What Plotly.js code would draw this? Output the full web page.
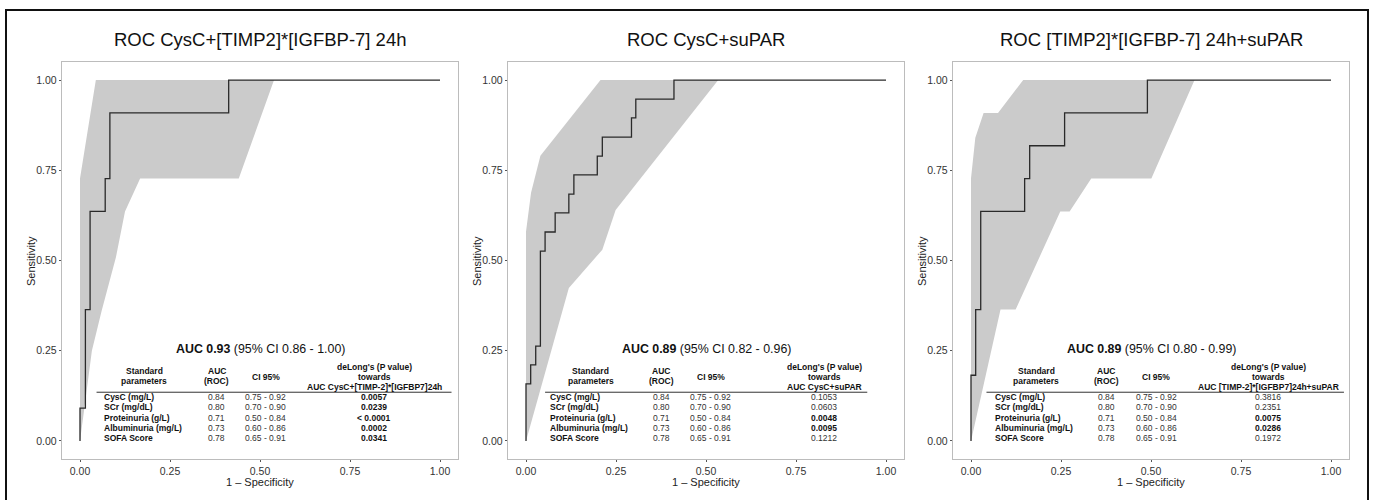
<!DOCTYPE html>
<html>
<head>
<meta charset="utf-8">
<script src="https://cdn.plot.ly/plotly-3.0.1.min.js"></script>
<style>html,body{margin:0;padding:0;background:#fff;}#chart{width:1373px;height:500px;}</style>
</head>
<body>
<div id="chart"></div>
<script>
// ---------- DATA ----------
const panelTitles = ['ROC CysC+[TIMP2]*[IGFBP-7] 24h', 'ROC CysC+suPAR', 'ROC [TIMP2]*[IGFBP-7] 24h+suPAR'];
const aucMain = ['0.93', '0.89', '0.89'];
const aucCI = ['0.86 - 1.00', '0.82 - 0.96', '0.80 - 0.99'];
const deLongTarget = ['AUC CysC+[TIMP-2]*[IGFBP7]24h', 'AUC CysC+suPAR', 'AUC [TIMP-2]*[IGFBP7]24h+suPAR'];

// ROC step curves (1 - specificity, sensitivity)
const roc1X = [0, 0, 0.015, 0.028, 0.07, 0.083, 0.413, 1];
const roc1Y = [0, 0.091, 0.364, 0.636, 0.727, 0.909, 1, 1];
const roc2X = [0, 0, 0.013, 0.027, 0.04, 0.053, 0.081, 0.119, 0.133, 0.198, 0.212, 0.293, 0.305, 0.411, 1];
const roc2Y = [0, 0.158, 0.211, 0.263, 0.526, 0.579, 0.632, 0.684, 0.737, 0.789, 0.842, 0.895, 0.947, 1, 1];
const roc3X = [0, 0, 0.013, 0.027, 0.149, 0.163, 0.26, 0.49, 1];
const roc3Y = [0, 0.182, 0.364, 0.636, 0.727, 0.818, 0.909, 1, 1];

// 95% CI bands of sensitivity (polygon outline)
const band1X = [0, 0, 0.044, 0.539, 0.441, 0.167, 0.125, 0.1, 0.06, 0.033, 0.012, 0];
const band1Y = [0, 0.727, 1, 1, 0.727, 0.727, 0.636, 0.51, 0.36, 0.25, 0.09, 0];
const band2X = [0, 0, 0.014, 0.04, 0.207, 0.534, 0.249, 0.212, 0.119, 0.06, 0];
const band2Y = [0, 0.58, 0.688, 0.79, 1, 1, 0.64, 0.53, 0.424, 0.21, 0];
const band3X = [0, 0, 0.012, 0.035, 0.075, 0.145, 0.621, 0.501, 0.334, 0.274, 0.248, 0.124, 0.082, 0];
const band3Y = [0, 0.727, 0.84, 0.909, 0.909, 1, 1, 0.727, 0.727, 0.636, 0.636, 0.364, 0.364, 0];

// Table
const rowNames = ['CysC (mg/L)', 'SCr (mg/dL)', 'Proteinuria (g/L)', 'Albuminuria (mg/L)', 'SOFA Score'];
const aucVals = ['0.84', '0.80', '0.71', '0.73', '0.78'];
const ciVals = ['0.75 - 0.92', '0.70 - 0.90', '0.50 - 0.84', '0.60 - 0.86', '0.65 - 0.91'];
const pVals1 = ['0.0057', '0.0239', '< 0.0001', '0.0002', '0.0341'];
const pVals2 = ['0.1053', '0.0603', '0.0048', '0.0095', '0.1212'];
const pVals3 = ['0.3816', '0.2351', '0.0075', '0.0286', '0.1972'];
const pSig1 = [true, true, true, true, true];
const pSig2 = [false, false, true, true, false];
const pSig3 = [false, false, true, true, false];

// ---------- LAYOUT ----------
const W = 1373, H = 500;
const FONT = 'Liberation Sans, Arial, Helvetica, sans-serif';
const frames = [[62, 458], [508, 904], [953, 1349]];
const frameTop = 62, frameBot = 459;
const colPos = [
  {name: 0.062, std: 0.178, auc: 0.38, ci: 0.516, p: 0.818, rule: [0.046, 1.032]},
  {name: 0.061, std: 0.18, auc: 0.376, ci: 0.513, p: 0.828, rule: [0.053, 0.948]},
  {name: 0.061, std: 0.181, auc: 0.376, ci: 0.515, p: 0.826, rule: [0.043, 1.036]}
];
const rowY = [0.123, 0.094, 0.065, 0.037, 0.009];

const rocX = [roc1X, roc2X, roc3X], rocY = [roc1Y, roc2Y, roc3Y];
const bandX = [band1X, band2X, band3X], bandY = [band1Y, band2Y, band3Y];
const pVals = [pVals1, pVals2, pVals3], pSig = [pSig1, pSig2, pSig3];

const traces = [];
const layout = {
  width: W, height: H,
  margin: {l: 0, r: 0, t: 0, b: 0},
  paper_bgcolor: '#ffffff', plot_bgcolor: '#ffffff',
  showlegend: false,
  font: {family: FONT, color: '#000'},
  annotations: [],
  shapes: []
};

function axisBase(domain, anchor) {
  return {
    domain: domain, anchor: anchor, range: [-0.05, 1.05],
    showgrid: false, zeroline: false, showline: true, mirror: true,
    linecolor: '#bcbcbc', linewidth: 1.2,
    ticks: 'outside', ticklen: 2, tickwidth: 1, tickcolor: '#555',
    tick0: 0, dtick: 0.25, tickformat: '.2f',
    tickfont: {family: FONT, size: 10.5, color: '#333'},
    fixedrange: true
  };
}

for (let i = 0; i < 3; i++) {
  const sfx = i === 0 ? '' : String(i + 1);
  const xa = 'x' + sfx, ya = 'y' + sfx;
  const [fl, fr] = frames[i];
  layout['xaxis' + sfx] = axisBase([fl / W, fr / W], ya);
  layout['yaxis' + sfx] = axisBase([1 - frameBot / H, 1 - frameTop / H], xa);

  traces.push({
    x: bandX[i], y: bandY[i], xaxis: xa, yaxis: ya,
    mode: 'lines', fill: 'toself', fillcolor: '#cbcbcb',
    line: {width: 0, color: '#cbcbcb'}, hoverinfo: 'skip'
  });
  traces.push({
    x: rocX[i], y: rocY[i], xaxis: xa, yaxis: ya,
    mode: 'lines', line: {shape: 'hv', color: '#2a2a2a', width: 1.3}, hoverinfo: 'skip'
  });

  const A = layout.annotations;
  const ann = (o) => A.push(Object.assign({showarrow: false, xref: xa, yref: ya, xanchor: 'center', yanchor: 'middle'}, o));

  // panel title
  ann({text: panelTitles[i], x: 0.5, y: 1 - 40 / H, yref: 'paper', font: {family: FONT, size: 18.5, color: '#111'}});
  // axis titles
  ann({text: '1 \u2013 Specificity', x: 0.5, y: 1 - 482 / H, yref: 'paper', font: {family: FONT, size: 11, color: '#222'}});
  ann({text: 'Sensitivity', x: (fl - 31) / W, xref: 'paper', y: 1 - 261 / H, yref: 'paper', textangle: -90, font: {family: FONT, size: 11, color: '#222'}});

  // AUC headline
  ann({text: '<b>AUC ' + aucMain[i] + '</b> (95% CI ' + aucCI[i] + ')', x: 0.5, y: 0.256, font: {family: FONT, size: 12.4, color: '#111'}});

  const c = colPos[i];
  const hf = {family: FONT, size: 8.5, color: '#111'};
  ann({text: '<b>Standard</b>', x: c.std, y: 0.195, font: hf});
  ann({text: '<b>parameters</b>', x: c.std, y: 0.165, font: hf});
  ann({text: '<b>AUC</b>', x: c.auc, y: 0.195, font: hf});
  ann({text: '<b>(ROC)</b>', x: c.auc, y: 0.165, font: hf});
  ann({text: '<b>CI 95%</b>', x: c.ci, y: 0.178, font: hf});
  ann({text: "<b>deLong's (P value)</b>", x: c.p, y: 0.206, font: hf});
  ann({text: '<b>towards</b>', x: c.p, y: 0.178, font: hf});
  ann({text: '<b>' + deLongTarget[i] + '</b>', x: c.p, y: 0.15, font: hf});

  layout.shapes.push({type: 'line', xref: xa, yref: ya, x0: c.rule[0], x1: c.rule[1], y0: 0.135, y1: 0.135, line: {color: '#333', width: 1}});

  for (let r = 0; r < rowNames.length; r++) {
    ann({text: '<b>' + rowNames[r] + '</b>', x: c.name, y: rowY[r], xanchor: 'left', font: hf});
    ann({text: aucVals[r], x: c.auc, y: rowY[r], font: {family: FONT, size: 8.5, color: '#333'}});
    ann({text: ciVals[r], x: c.ci, y: rowY[r], font: {family: FONT, size: 8.5, color: '#333'}});
    const pv = pSig[i][r] ? '<b>' + pVals[i][r] + '</b>' : pVals[i][r];
    ann({text: pv, x: c.p, y: rowY[r], font: {family: FONT, size: 8.5, color: pSig[i][r] ? '#111' : '#333'}});
  }
}

// outer figure border
layout.shapes.push({type: 'rect', xref: 'paper', yref: 'paper', x0: 6 / W, x1: 1368 / W, y0: -0.02, y1: 1 - 10 / H, line: {color: '#111', width: 2}, fillcolor: 'rgba(0,0,0,0)'});

Plotly.newPlot('chart', traces, layout, {staticPlot: true, displayModeBar: false});
</script>
</body>
</html>
